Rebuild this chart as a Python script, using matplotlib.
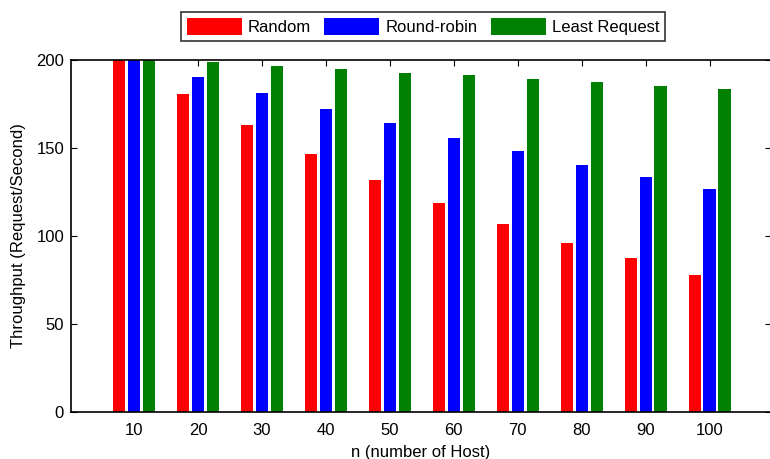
import matplotlib.pyplot as plt
import numpy as np

plt.rcParams['font.family'] = ['Liberation Sans', 'DejaVu Sans']

hosts = [10, 20, 30, 40, 50, 60, 70, 80, 90, 100]
random_tp = [200, 180.8, 163.0, 146.3, 131.6, 118.7, 106.6, 95.9, 87.2, 77.5]
round_robin_tp = [200, 190.5, 181.4, 172.3, 163.9, 155.4, 148.0, 140.2, 133.3, 126.5]
least_request_tp = [200, 198.9, 196.6, 194.9, 192.8, 191.3, 189.0, 187.5, 185.2, 183.5]

labels = ['Random', 'Round-robin', 'Least Request']
colors = ['#ff0000', '#0000ff', '#008000']

fig = plt.figure(figsize=(7.70, 4.59), dpi=100)
ax = fig.add_axes([71 / 770, (459 - 411.5) / 459, 699.5 / 770, 351.5 / 459])

x = np.array(hosts, dtype=float)
width = 1.95
offset = 2.34
series = [random_tp, round_robin_tp, least_request_tp]
for i, vals in enumerate(series):
    ax.bar(x + (i - 1) * offset, vals, width, color=colors[i],
           edgecolor='none', label=labels[i], zorder=2)

ax.set_xlim(0.15, 109.5)
ax.set_ylim(0, 200)
ax.set_xticks(hosts)
ax.set_yticks([0, 50, 100, 150, 200])
ax.tick_params(direction='in', length=4, width=0.8, top=True, right=True,
               labelsize=12, pad=5)
ax.tick_params(axis='x', pad=8)
for s in ax.spines.values():
    s.set_linewidth(1.2)

ax.set_xlabel('n (number of Host)', fontsize=12, labelpad=5)
ax.set_ylabel('Throughput (Request/Second)', fontsize=12, labelpad=7)

leg = fig.legend(loc='center', bbox_to_anchor=(423 / 770, 1 - 26.5 / 459),
                 ncol=3, fontsize=12, frameon=True, fancybox=False,
                 edgecolor='black', handlelength=3.3, handleheight=1.25,
                 handletextpad=0.35, columnspacing=0.8, borderpad=0.35,
                 borderaxespad=0)
leg.get_frame().set_linewidth(1.2)

fig.savefig('out.png', dpi=100)
